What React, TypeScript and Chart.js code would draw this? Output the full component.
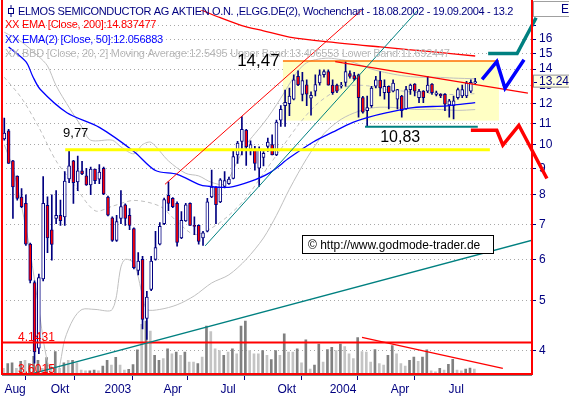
import React, { useEffect, useRef } from 'react';
import { Chart, registerables } from 'chart.js';

Chart.register(...registerables);

// ---- weekly candles (week 0 = week of 12.08.2002) ----
const weekIndex: number[] = Array.from({ length: 110 }, (_, i) => i);

const opens = [
  10.26, 10.63, 9.3, 8.69, 7.92, 7.7, 6.42, 5.41, 4.04, 5.5,
  7.63, 6.84, 7.2, 7.3, 7.25, 8.58, 9.3, 8.47, 8.9, 8.7,
  8.36, 8.97, 8.57, 9.0, 7.92, 7.22, 6.53, 7.2, 7.65, 7.3,
  6.88, 5.71, 6.0, 4.61, 5.25, 6.0, 6.42, 7.03, 7.98, 7.87,
  7.7, 6.6, 7.12, 7.7, 6.98, 6.98, 6.6, 6.8, 7.92, 8.28,
  7.75, 8.3, 8.4, 8.6, 9.55, 10.15, 10.67, 9.8, 9.77, 9.0,
  9.45, 9.92, 10.0, 9.55, 11.15, 11.9, 12.0, 12.25, 13.55, 12.5,
  13.05, 12.3, 12.69, 13.16, 13.65, 13.85, 13.04, 13.04, 12.97, 13.2,
  13.72, 13.6, 13.65, 12.33, 11.63, 11.89, 12.97, 13.33, 12.6, 12.97,
  12.69, 12.25, 12.42, 11.72, 12.78, 13.1, 12.33, 12.69, 12.69, 13.1,
  12.51, 12.51, 12.51, 11.93, 11.89, 12.33, 12.42, 12.42, 12.69, 13.16,
];
const highs = [
  11.25, 10.7, 9.32, 8.7, 8.22, 8.0, 6.45, 5.45, 5.62, 8.67,
  7.93, 8.0, 8.15, 7.81, 8.87, 9.77, 9.33, 9.5, 9.28, 9.0,
  9.05, 8.97, 9.15, 9.05, 7.95, 7.25, 7.3, 8.15, 7.68, 7.52,
  6.9, 6.18, 6.08, 5.2, 6.08, 6.8, 7.07, 7.88, 8.47, 7.9,
  7.75, 7.42, 7.7, 7.72, 7.25, 7.0, 6.8, 7.87, 8.93, 8.3,
  8.6, 8.87, 8.65, 9.77, 10.15, 11.33, 10.7, 10.17, 9.92, 9.9,
  9.7, 10.3, 10.45, 11.15, 11.9, 12.75, 12.87, 13.65, 13.9, 13.8,
  13.35, 12.65, 13.65, 13.95, 13.95, 13.95, 13.35, 13.1, 13.2, 14.47,
  13.9, 13.8, 13.7, 12.4, 12.42, 12.97, 13.55, 13.85, 13.35, 13.0,
  13.35, 12.8, 12.45, 12.97, 13.1, 13.12, 12.8, 12.72, 13.55, 13.12,
  12.69, 12.55, 12.55, 12.24, 12.42, 12.87, 13.04, 13.26, 13.35, 13.44,
];
const lows = [
  10.2, 9.2, 7.2, 7.81, 7.55, 6.38, 5.4, 3.78, 3.94, 5.45,
  6.18, 5.98, 7.03, 6.98, 6.98, 8.44, 7.7, 8.15, 8.75, 8.34,
  8.0, 8.4, 8.4, 8.0, 7.28, 6.5, 6.5, 7.03, 6.98, 6.85,
  5.75, 5.6, 4.4, 4.2, 5.22, 5.98, 6.4, 7.0, 7.45, 7.55,
  6.36, 6.58, 7.1, 6.98, 6.7, 6.42, 6.38, 6.78, 7.9, 7.03,
  7.72, 8.25, 8.38, 8.58, 9.2, 9.55, 9.12, 9.55, 8.93, 8.3,
  9.1, 9.7, 9.55, 9.52, 10.84, 10.84, 11.38, 12.2, 13.0, 12.15,
  11.89, 11.4, 12.42, 13.04, 13.5, 13.04, 12.5, 12.6, 12.87, 12.97,
  13.45, 13.3, 11.3, 11.5, 10.83, 11.8, 12.87, 12.42, 12.25, 11.72,
  12.65, 11.72, 11.3, 11.7, 12.5, 12.42, 12.06, 12.06, 12.6, 12.5,
  12.42, 12.33, 11.63, 11.3, 11.21, 12.25, 12.33, 12.33, 12.6, 13.1,
];
const closes = [
  10.53, 9.2, 8.28, 7.87, 7.59, 6.42, 5.46, 3.97, 5.53, 7.7,
  6.6, 6.41, 7.3, 7.13, 8.5, 9.1, 8.44, 8.9, 8.78, 8.36,
  8.97, 8.52, 8.85, 8.03, 7.3, 6.53, 7.1, 7.59, 7.2, 6.98,
  5.78, 5.95, 4.59, 5.07, 5.95, 6.32, 6.95, 7.83, 7.7, 7.59,
  6.47, 7.14, 7.65, 6.98, 6.95, 6.5, 6.75, 7.75, 8.28, 7.65,
  8.55, 8.52, 8.58, 9.48, 10.07, 10.7, 9.9, 10.0, 9.2, 9.77,
  9.62, 10.12, 9.55, 11.06, 11.7, 12.07, 12.42, 13.35, 13.05, 13.3,
  12.52, 12.45, 13.07, 13.65, 13.85, 13.04, 12.6, 12.69, 13.04, 13.85,
  13.55, 13.4, 12.33, 11.55, 11.8, 12.87, 13.35, 12.87, 12.97, 12.6,
  13.16, 12.78, 11.63, 12.78, 13.04, 12.69, 12.69, 12.33, 13.04, 12.6,
  12.6, 12.42, 11.98, 12.15, 12.15, 12.78, 12.78, 13.16, 13.2, 13.24,
];
const volumes = [
  57, 107, 113, 57, 130, 140, 107, 180, 140, 57,
  167, 90, 230, 57, 113, 140, 140, 113, 40, 33,
  33, 40, 33, 80, 140, 90, 170, 90, 40, 47,
  97, 247, 507, 540, 440, 190, 140, 157, 257, 207,
  223, 190, 223, 123, 123, 107, 173, 490, 433, 257,
  240, 190, 223, 257, 207, 490, 540, 240, 207, 207,
  240, 190, 147, 240, 190, 410, 223, 223, 257, 113,
  350, 50, 90, 307, 123, 250, 273, 240, 307, 280,
  207, 157, 373, 230, 223, 123, 250, 107, 90, 190,
  290, 207, 107, 80, 140, 173, 130, 173, 247, 33,
  23, 57, 40, 100, 150, 40, 33, 50, 60, 50,
];
const volumeLight = [
  1, 0, 0, 1, 0, 1, 0, 0, 0, 1,
  0, 1, 0, 1, 0, 1, 0, 1, 1, 1,
  0, 0, 1, 0, 0, 1, 0, 1, 1, 0,
  0, 0, 1, 0, 1, 0, 0, 1, 0, 1,
  0, 1, 0, 1, 1, 0, 1, 0, 1, 1,
  1, 0, 1, 0, 1, 0, 0, 1, 1, 1,
  0, 1, 0, 0, 1, 0, 1, 1, 0, 1,
  0, 1, 0, 0, 1, 0, 0, 1, 0, 1,
  1, 1, 0, 1, 1, 1, 0, 1, 1, 0,
  0, 1, 1, 1, 0, 0, 1, 0, 0, 1,
  1, 0, 1, 0, 0, 1, 1, 0, 0, 1,
];

// ---- indicators ----
const ema200Weeks = [45, 50, 55, 60, 66, 75, 87, 100, 109];
const ema200Values = [18.3, 17.6, 17.0, 16.6, 16.15, 15.8, 15.45, 15.1, 14.84];

const ema50Weeks = [1, 5, 6.6, 8.3, 14.5, 22, 30, 35, 40, 45, 47, 52, 57, 61.5, 66, 71.5, 76, 80.7, 84, 88.6, 94.6, 102.5, 109];
const ema50Values = [15.45, 14.47, 13.55, 12.8, 11.53, 10.8, 9.7, 8.91, 8.76, 8.38, 8.31, 8.27, 8.49, 8.83, 9.43, 10.12, 10.57, 11.04, 11.28, 11.53, 11.79, 11.89, 12.06];

const bbUpperWeeks = [0, 4, 8, 10, 12, 15, 18, 20, 25, 27, 30, 32, 34, 38, 42, 45, 48, 51, 54, 56, 58, 60, 62, 64, 66, 68, 70, 72, 75, 78, 80, 82, 85, 88, 92, 96, 100, 104, 109];
const bbUpperValues = [16.5, 15.8, 14.8, 14.2, 13.0, 11.8, 10.8, 10.2, 10.2, 9.9, 9.6, 10.0, 10.1, 9.3, 8.8, 8.7, 8.45, 8.4, 9.3, 10.0, 10.5, 11.0, 11.6, 12.3, 13.1, 13.9, 14.4, 14.6, 14.7, 14.6, 14.5, 14.3, 14.0, 13.8, 13.6, 13.5, 13.5, 13.45, 13.41];

const bbMiddleWeeks = [0, 4, 8, 12, 16, 21, 25, 30, 36, 40, 44, 48, 52, 56, 60, 64, 68, 72, 76, 80, 84, 88, 92, 96, 100, 104, 109];
const bbMiddleValues = [13.5, 12.3, 10.8, 9.3, 8.4, 7.45, 7.6, 7.8, 7.6, 7.1, 6.7, 6.9, 7.3, 7.9, 8.8, 9.8, 10.9, 11.9, 12.6, 13.0, 13.0, 12.8, 12.7, 12.6, 12.55, 12.5, 12.55];

const bbLowerWeeks = [0, 2, 4, 6, 8, 10, 12, 13, 14, 16, 18, 21, 25, 27, 28, 30, 32, 33, 36, 40, 44, 48, 52, 56, 60, 63, 66, 70, 74, 78, 82, 86, 90, 95, 100, 105, 109];
const bbLowerValues = [10.0, 9.0, 7.6, 6.2, 4.8, 3.8, 3.5, 3.8, 4.2, 4.6, 4.8, 4.8, 4.8, 5.8, 6.0, 5.9, 5.1, 4.8, 4.8, 4.9, 5.1, 5.4, 5.6, 6.0, 6.6, 7.3, 8.2, 9.4, 10.5, 11.2, 11.6, 11.8, 11.8, 11.7, 11.7, 11.65, 11.69];

// ---- drawn analysis lines (week, price) ----
const redChannelWeeks = [37.2, 83];
const redChannelPrices = [8.38, 18.3];
const tealChannelWeeks = [46.5, 96];
const tealChannelPrices = [6.37, 18.3];
const tealLongWeeks = [7.1, 123];
const tealLongPrices = [3.62, 6.56];
const resistanceWeeks = [76.6, 121.2];
const resistancePrices = [14.47, 12.58];
const level977Weeks = [14.1, 112.4];
const level977 = 9.77;
const level1083Weeks = [83.5, 109.6];
const level1083 = 10.83;
const level4143 = 4.1431;
const level36015 = 3.6015;
const volTrendWeeks = [82.8, 115.4];
const volTrendPrices = [4.24, 3.69];
const boxWeeks = [64.5, 114.5];
const boxPrices = [14.52, 11.13];
const blueArrowWeeks = [110.6, 114, 115.9, 120.3];
const blueArrowPrices = [13.38, 14.47, 12.86, 14.6];
const tealArrowWeeks = [112, 118.7, 123.1];
const tealArrowPrices = [15.0, 15.0, 17.6];
const redArrowWeeks = [108, 114, 115.4, 119.1, 125.6];
const redArrowPrices = [10.66, 10.66, 9.98, 10.9, 8.6];

// ---- axes ----
const yTickValues = [4, 5, 6, 7, 8, 9, 10, 11, 12, 13, 14, 15, 16, 17];
const yTickLabels = ['4', '5', '6', '7', '8', '9', '10', '11', '12', '13', '14', '15', '16', ''];
const quarterTickWeeks = [7.1, 19.8, 33.0, 46.0, 59.2, 72.2, 85.3, 98.3];
const monthLabelWeeks = [2.5, 12.9, 26.3, 39.0, 51.8, 65.4, 78.4, 91.6, 104.6];
const monthLabels = ['Aug', 'Okt', '2003', 'Apr', 'Jul', 'Okt', '2004', 'Apr', 'Jul'];
const lastPrice = 13.24;

const titleText = 'ELMOS SEMICONDUCTOR AG AKTIEN O.N. ,ELGG.DE(2), Wochenchart - 18.08.2002 - 19.09.2004 - 13.2';
const legendEma200 = 'XX EMA [Close, 200]:14.837477';
const legendEma50 = 'XX EMA(2) [Close, 50]:12.056883';
const legendBB = 'XX BBD [Close, 20, 2] Moving Average:12.5495 Upper Band:13.406553 Lower Band:11.692447';

const FONT = "'Liberation Sans', Arial, sans-serif";
const NAVY = '#000080';

const pts = (w: number[], v: number[]) => w.map((x, i) => ({ x, y: v[i] }));
const flat = (w: number[], v: number) => w.map((x) => ({ x, y: v }));

const line = (data: any[], color: string, width: number, order: number, extra: any = {}) => ({
  type: 'line',
  data,
  borderColor: color,
  borderWidth: width,
  pointRadius: 0,
  fill: false,
  tension: 0,
  order,
  ...extra,
});

const annotPlugin = {
  id: 'annot',
  beforeDatasetsDraw(chart: any) {
    const { ctx, scales } = chart;
    const x = scales.x, y = scales.y;
    const l = x.getPixelForValue(boxWeeks[0]);
    const r = x.getPixelForValue(boxWeeks[1]);
    const t = y.getPixelForValue(boxPrices[0]);
    const b = y.getPixelForValue(boxPrices[1]);
    ctx.save();
    ctx.fillStyle = '#ffffc4';
    ctx.fillRect(l, t, r - l, b - t);
    ctx.restore();
  },
  afterDraw(chart: any) {
    const { ctx, chartArea: ca, scales } = chart;
    const x = scales.x, y = scales.y;
    ctx.save();
    ctx.textAlign = 'left';
    // frame
    ctx.fillStyle = '#ff0000';
    ctx.fillRect(ca.left - 1, 0, 2, ca.bottom + 1);
    ctx.fillRect(ca.right - 1, 0, 2, ca.bottom + 1);
    ctx.fillRect(ca.left - 1, ca.bottom - 1, ca.right - ca.left + 2, 2);
    ctx.fillStyle = '#808080';
    ctx.fillRect(ca.left, ca.bottom + 1, ca.right - ca.left, 1);

    // right-top box
    ctx.fillStyle = '#ffffff';
    ctx.fillRect(ca.right + 1, 1, 40, 15);
    ctx.strokeStyle = '#a0a0a0';
    ctx.lineWidth = 1;
    ctx.strokeRect(ca.right + 1.5, 1.5, 40, 15);
    ctx.fillStyle = NAVY;
    ctx.font = `12px ${FONT}`;
    ctx.textBaseline = 'alphabetic';
    ctx.fillText('EUR', 561, 13);

    // last price box
    const yp = y.getPixelForValue(lastPrice);
    ctx.fillStyle = '#ffffe1';
    ctx.fillRect(ca.right + 1, yp - 6, 40, 12);
    ctx.strokeStyle = '#909090';
    ctx.strokeRect(ca.right + 1.5, yp - 6.5, 40, 12);
    ctx.fillStyle = NAVY;
    ctx.fillRect(ca.right + 2, Math.round(yp), 3, 1);
    ctx.textBaseline = 'middle';
    ctx.fillText(String(lastPrice), 539, yp);

    // texts inside chart (clipped to the frame)
    ctx.save();
    ctx.beginPath();
    ctx.rect(0, 0, ca.right - 1, 397);
    ctx.clip();
    ctx.textBaseline = 'alphabetic';
    ctx.font = `11px ${FONT}`;
    (ctx as any).letterSpacing = '-0.35px';
    ctx.fillStyle = NAVY;
    ctx.fillText(titleText, 18, 15);
    ctx.strokeStyle = NAVY;
    ctx.strokeRect(8.5, 8.5, 5, 5);
    ctx.beginPath();
    ctx.moveTo(11, 5); ctx.lineTo(11, 8.5);
    ctx.moveTo(11, 13.5); ctx.lineTo(11, 17);
    ctx.stroke();
    ctx.font = `11px ${FONT}`;
    (ctx as any).letterSpacing = '-0.25px';
    ctx.fillStyle = '#ff0000';
    ctx.fillText(legendEma200, 5, 28);
    ctx.fillStyle = '#0000ff';
    ctx.fillText(legendEma50, 5, 43);
    ctx.fillStyle = '#b8b8b8';
    ctx.fillText(legendBB, 5, 57);
    (ctx as any).letterSpacing = '0px';
    ctx.restore();

    // price annotations
    ctx.textAlign = 'left';
    ctx.textBaseline = 'alphabetic';
    ctx.fillStyle = '#000000';
    ctx.font = `17px ${FONT}`;
    ctx.fillText('14,47', x.getPixelForValue(53.9), y.getPixelForValue(14.47) + 4);
    ctx.font = `16px ${FONT}`;
    ctx.fillText('10,83', x.getPixelForValue(87), y.getPixelForValue(level1083) + 15);
    ctx.font = `13px ${FONT}`;
    ctx.fillText('9,77', x.getPixelForValue(13.6), y.getPixelForValue(level977) - 13);
    ctx.font = `12px ${FONT}`;
    ctx.fillStyle = '#ff0000';
    ctx.fillText(String(level4143), x.getPixelForValue(3.2), y.getPixelForValue(level4143) - 1);
    ctx.fillText(String(level36015), x.getPixelForValue(3.2), y.getPixelForValue(level36015) - 1);

    // copyright box
    ctx.fillStyle = '#ffffff';
    ctx.fillRect(302, 235, 191, 18);
    ctx.strokeStyle = '#000000';
    ctx.strokeRect(302.5, 235.5, 191, 18);
    ctx.fillStyle = '#000000';
    ctx.font = `12px ${FONT}`;
    ctx.fillText('\u00A9 http://www.godmode-trader.de', 308, 249);
    ctx.restore();
  },
};

export default function App() {
  const ref = useRef<HTMLCanvasElement | null>(null);
  useEffect(() => {
    document.body.style.margin = '0';
    const canvas = ref.current;
    if (!canvas) return;

    const wickData = weekIndex.map((i) => ({ x: i, y: [lows[i], highs[i]] }));
    const bodyData = weekIndex.map((i) => ({ x: i, y: [opens[i], closes[i]] }));
    const bodyColors = weekIndex.map((i) => (closes[i] < opens[i] ? '#ff0000' : '#ffffff'));
    const volData = weekIndex.map((i) => ({ x: i - 0.2, y: volumes[i] }));
    const volColors = volumeLight.map((v) => (v ? '#c4c4c4' : '#808080'));

    const chart = new Chart(canvas, {
      type: 'bar',
      data: {
        datasets: [
          {
            type: 'bar', data: volData, yAxisID: 'y2', backgroundColor: volColors,
            barThickness: 2, grouped: false, order: 20,
          },
          line(pts(bbUpperWeeks, bbUpperValues), '#c0c0c0', 1, 15, { tension: 0.3 }),
          line(pts(bbMiddleWeeks, bbMiddleValues), '#c0c0c0', 1, 15, { tension: 0.3, borderDash: [4, 3] }),
          line(pts(bbLowerWeeks, bbLowerValues), '#c0c0c0', 1, 15, { tension: 0.3 }),
          {
            type: 'bar', data: wickData, backgroundColor: NAVY, barThickness: 1,
            grouped: false, order: 12,
          },
          {
            type: 'bar', data: bodyData, backgroundColor: bodyColors, borderColor: NAVY,
            borderWidth: 1, borderSkipped: false, barThickness: 3, minBarLength: 1,
            grouped: false, order: 11,
          },
          line(pts(ema200Weeks, ema200Values), '#ff0000', 1.3, 6, { tension: 0.3 }),
          line(pts(ema50Weeks, ema50Values), '#0000ff', 1.3, 6, { tension: 0.3 }),
          line(pts(redChannelWeeks, redChannelPrices), '#ff0000', 1, 5),
          line(pts(tealChannelWeeks, tealChannelPrices), '#008080', 1, 5),
          line(pts(tealLongWeeks, tealLongPrices), '#008080', 1.3, 5),
          line(pts(resistanceWeeks, resistancePrices), '#ff0000', 1.2, 5),
          line(flat(level977Weeks, level977), '#ffff00', 3, 5),
          line(flat(level1083Weeks, level1083), '#008080', 2, 5),
          line(flat([-1, 123], level4143), '#ff0000', 2, 5),
          line(pts(volTrendWeeks, volTrendPrices), '#ff0000', 1.3, 5),
          line(flat(boxWeeks, boxPrices[0]), '#ff7000', 1.5, 5),
          line(pts(blueArrowWeeks, blueArrowPrices), '#0000ff', 3.5, 2, { clip: false }),
          line(pts(tealArrowWeeks, tealArrowPrices), '#008080', 3.5, 2, { clip: false }),
          line(pts(redArrowWeeks, redArrowPrices), '#ff0000', 3.5, 2, { clip: false }),
        ] as any,
      },
      options: {
        responsive: false,
        animation: false,
        events: [],
        layout: { padding: { left: 2, top: 2, right: 0, bottom: 0 } },
        plugins: { legend: { display: false }, tooltip: { enabled: false } },
        scales: {
          x: {
            type: 'linear',
            min: -0.53,
            max: 122.15,
            offset: false,
            afterBuildTicks: (s: any) => {
              s.ticks = [...quarterTickWeeks, ...monthLabelWeeks]
                .sort((a, b) => a - b)
                .map((v) => ({ value: v }));
            },
            afterFit: (s: any) => { s.height = 23; },
            grid: {
              drawOnChartArea: false,
              drawTicks: true,
              tickLength: 6,
              tickColor: (c: any) => (c.tick && quarterTickWeeks.includes(c.tick.value) ? NAVY : 'rgba(0,0,0,0)'),
            },
            border: { display: false },
            ticks: {
              autoSkip: false,
              maxRotation: 0,
              minRotation: 0,
              padding: 2,
              color: NAVY,
              font: { family: FONT, size: 12 },
              callback: (v: any) => {
                const i = monthLabelWeeks.indexOf(Number(v));
                return i >= 0 ? monthLabels[i] : '';
              },
            },
          },
          y: {
            type: 'logarithmic',
            position: 'right',
            min: 3.6,
            max: 18.2,
            afterBuildTicks: (s: any) => {
              s.ticks = yTickValues.map((v) => ({ value: v }));
            },
            afterFit: (s: any) => { s.width = 37; },
            grid: {
              color: '#a8a8a8',
              lineWidth: 1,
              drawTicks: true,
              tickLength: 4,
              tickColor: NAVY,
            },
            border: { display: false, dash: [1, 3] },
            ticks: {
              padding: 3,
              color: NAVY,
              font: { family: FONT, size: 12 },
              callback: (v: any) => {
                const i = yTickValues.indexOf(Number(v));
                return i >= 0 ? yTickLabels[i] : '';
              },
            },
          },
          y2: {
            type: 'linear',
            display: false,
            min: 0,
            max: 3720,
          },
        },
      } as any,
      plugins: [annotPlugin],
    });
    return () => chart.destroy();
  }, []);

  return <canvas ref={ref} width={569} height={397} style={{ display: 'block' }} />;
}
